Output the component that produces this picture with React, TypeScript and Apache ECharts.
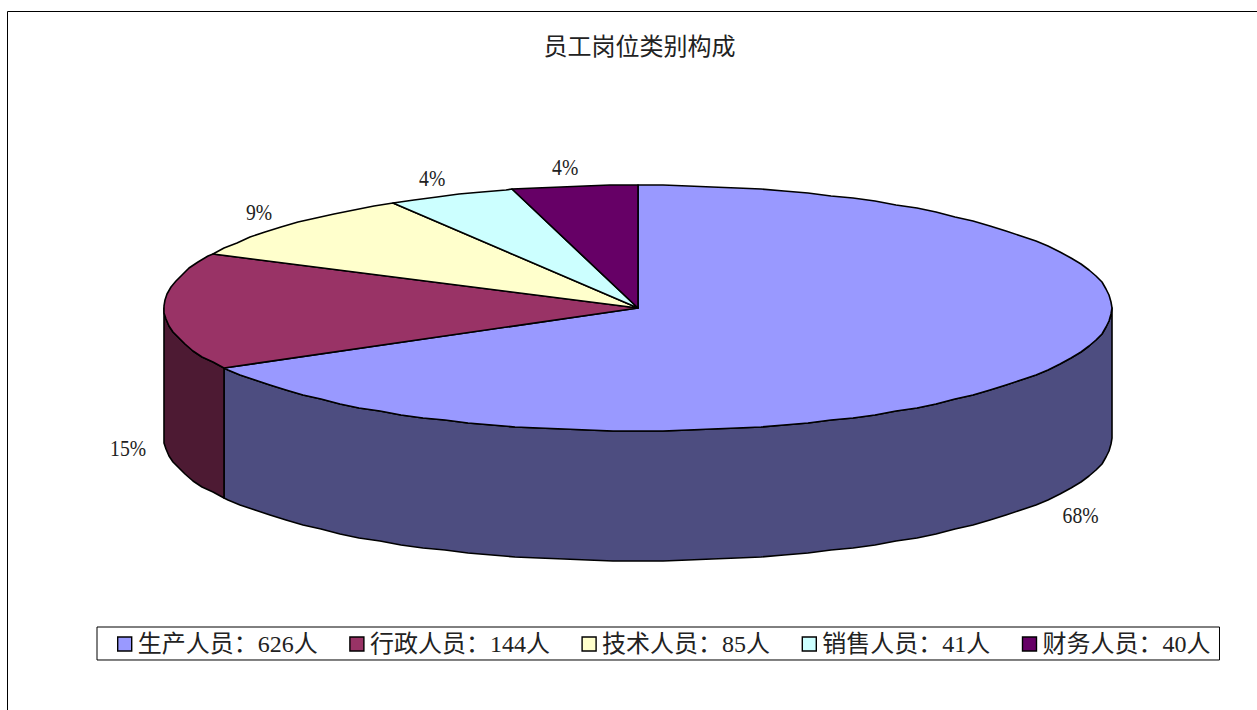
import React, { useEffect, useRef } from "react";
import * as echarts from "echarts";

const titleText = "员工岗位类别构成";
const categories = ["生产人员：626人", "行政人员：144人", "技术人员：85人", "销售人员：41人", "财务人员：40人"];
const values = [626, 144, 85, 41, 40];
const percentLabels = ["68%", "15%", "9%", "4%", "4%"];
const topColors = ["#9999FF", "#993366", "#FFFFCC", "#CCFFFF", "#660066"];
const sideColors = ["#4D4D80", "#4D1A33", "#808066", "#668080", "#330033"];

const FONT = '"Liberation Serif", "Noto Sans CJK SC", serif';
const CX = 638;
const CY = 308;
const RX = 474;
const RY = 123;
const DEPTH = 130;
const STEP = (3 * Math.PI) / 180;
const LINE = { stroke: "#000", lineWidth: 1.6, lineJoin: "round" as const };

const total = values.reduce((a, b) => a + b, 0);
const startAngles: number[] = [];
values.reduce((acc, v, i) => {
  startAngles[i] = acc;
  return acc + (v / total) * Math.PI * 2;
}, 0);

const rimPoint = (a: number, drop = 0): [number, number] => [
  Math.round(CX + RX * Math.sin(a)),
  Math.round(CY - RY * Math.cos(a) + drop),
];

const arcPoints = (a0: number, a1: number, drop = 0) => {
  const pts: [number, number][] = [];
  for (let a = a0; a < a1; a += STEP) pts.push(rimPoint(a, drop));
  pts.push(rimPoint(a1, drop));
  return pts;
};

const renderSlice = (i: number) => () => {
  const a0 = startAngles[i];
  const a1 = a0 + (values[i] / total) * Math.PI * 2;
  const children: any[] = [];
  // side wall: only the front half of the rim (90deg to 270deg) is visible
  const s0 = Math.max(a0, Math.PI / 2);
  const s1 = Math.min(a1, (Math.PI * 3) / 2);
  if (s1 > s0) {
    const upper = arcPoints(s0, s1);
    const lower = arcPoints(s0, s1, DEPTH).reverse();
    children.push({
      type: "polygon",
      shape: { points: [...upper, ...lower] },
      style: { fill: sideColors[i], ...LINE },
    });
  }
  children.push({
    type: "polygon",
    shape: { points: [[CX, CY], ...arcPoints(a0, a1)] },
    style: { fill: topColors[i], ...LINE },
  });
  const mid = (a0 + a1) / 2;
  const front = Math.cos(mid) < 0 || Math.abs(Math.sin(mid)) > 0.99;
  const [px, py] = rimPoint(mid, front ? DEPTH : 0);
  children.push({
    type: "text",
    x: px + 36 * Math.sin(mid) - 5 * Math.cos(mid),
    y: py - 18 * Math.cos(mid) + (front ? 6 : -1),
    scaleX: 0.82,
    style: {
      text: percentLabels[i],
      font: `24px ${FONT}`,
      fill: "#222",
      align: "center",
      verticalAlign: "middle",
    },
  });
  return { type: "group", children };
};

export default function App() {
  const ref = useRef<HTMLDivElement>(null);
  useEffect(() => {
    const chart = echarts.init(ref.current!, null, { renderer: "svg" });
    chart.setOption({
      animation: false,
      backgroundColor: "#fff",
      title: {
        text: titleText,
        left: 634.5,
        top: 30,
        textAlign: "center",
        textStyle: { fontFamily: FONT, fontSize: 24, fontWeight: "normal", color: "#222" },
      },
      legend: {
        left: 97,
        top: 627,
        orient: "horizontal",
        selectedMode: false,
        padding: [5, 9, 4, 20],
        itemGap: 31.5,
        itemWidth: 14,
        itemHeight: 14,
        icon: "rect",
        borderColor: "#000",
        borderWidth: 1,
        itemStyle: { borderColor: "#000", borderWidth: 1.4 },
        textStyle: { fontFamily: FONT, fontSize: 24, color: "#222", padding: [0, 0, 0, 1] },
        data: categories,
      },
      graphic: [
        { type: "line", shape: { x1: 7.5, y1: 11.5, x2: 1257, y2: 11.5 }, style: { stroke: "#000", lineWidth: 1 } },
        { type: "line", shape: { x1: 7.5, y1: 11.5, x2: 7.5, y2: 710 }, style: { stroke: "#000", lineWidth: 1 } },
      ],
      series: categories.map((name, i) => ({
        type: "custom",
        name,
        coordinateSystem: "none",
        itemStyle: { color: topColors[i] },
        renderItem: renderSlice(i),
        data: [values[i]],
      })),
    });
    return () => chart.dispose();
  }, []);
  return <div ref={ref} style={{ position: "fixed", left: 0, top: 0, width: 1257, height: 710 }} />;
}
